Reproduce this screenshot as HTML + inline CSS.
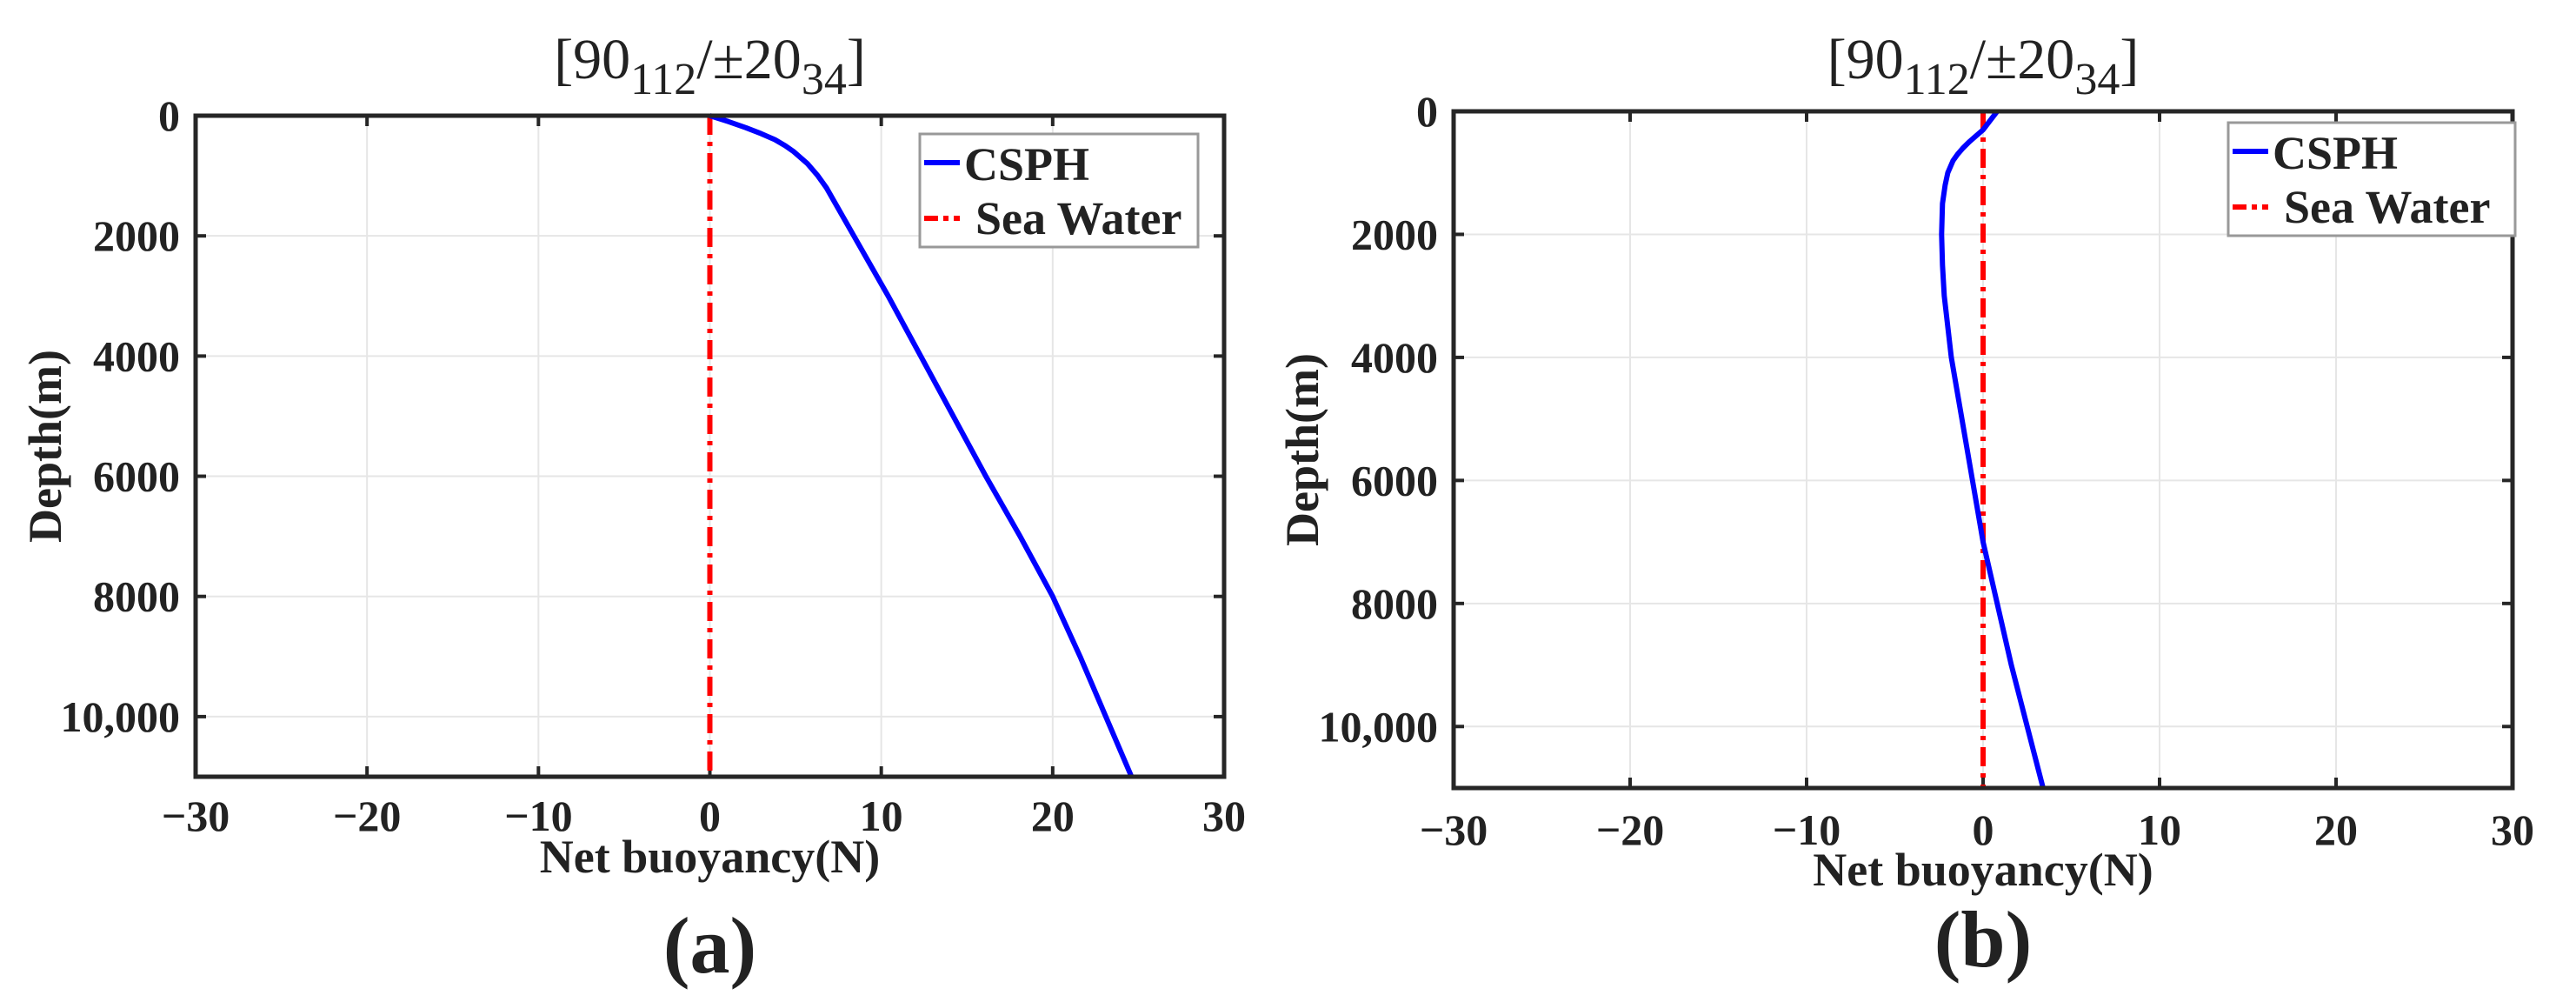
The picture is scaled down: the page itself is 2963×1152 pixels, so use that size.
<!DOCTYPE html>
<html><head><meta charset="utf-8"><style>
html,body{margin:0;padding:0;background:#fff;}
svg{display:block;}
text{font-family:"Liberation Serif",serif;fill:#222;}
</style></head><body>
<svg id="fig" width="2963" height="1152" viewBox="0 0 2963 1152" xmlns="http://www.w3.org/2000/svg"></svg>
<script>
const depthsA = [0,100,200,300,400,500,600,700,800,1000,1200,1500,2000,2500,3000,4000,5000,6000,7000,8000,9000,10000,11000];
const buoyA   = [0,1.1,2.1,3.0,3.8,4.4,4.9,5.3,5.7,6.3,6.8,7.4,8.4,9.4,10.4,12.3,14.2,16.1,18.1,20.0,21.6,23.1,24.6];
const depthsB = [0,150,300,400,500,600,700,800,1000,1200,1500,2000,2500,3000,4000,5000,6000,7000,8000,9000,10000,11000];
const buoyB   = [0.8,0.4,0,-0.4,-0.8,-1.15,-1.45,-1.7,-2.0,-2.15,-2.3,-2.35,-2.3,-2.2,-1.8,-1.2,-0.6,0,0.8,1.6,2.5,3.4];
const xTicks = [-30,-20,-10,0,10,20,30];
const yTicks = [0,2000,4000,6000,8000,10000];
const yTickLabels = ["0","2000","4000","6000","8000","10,000"];
const seaWater = [0];

const NS="http://www.w3.org/2000/svg";
const svg=document.getElementById('fig');
function el(tag,attrs,parent){const e=document.createElementNS(NS,tag);for(const k in attrs)e.setAttribute(k,attrs[k]);(parent||svg).appendChild(e);return e;}

function panel(cfg){
  const g=el('g',{});
  
  
  const {x0,x1,y0,y1}=cfg;
  const sx=v=>x0+(v+30)/60*(x1-x0);
  const sy=v=>y0+v/11000*(y1-y0);
  xTicks.forEach(t=>{const l=el('line',{x1:sx(t),x2:sx(t),y1:y0,y2:y1,stroke:'#e6e6e6','stroke-width':2},g);
    });
  yTicks.forEach(t=>{const l=el('line',{x1:x0,x2:x1,y1:sy(t),y2:sy(t),stroke:'#e6e6e6','stroke-width':2},g);
    });
  xTicks.forEach(t=>{
    el('line',{x1:sx(t),x2:sx(t),y1:y1,y2:y1-12,stroke:'#262626','stroke-width':4},g);
    el('line',{x1:sx(t),x2:sx(t),y1:y0,y2:y0+12,stroke:'#262626','stroke-width':4},g);
    const tx=el('text',{x:sx(t),y:cfg.xtickY,'text-anchor':'middle','font-size':50,'font-weight':'bold'},g);
    tx.textContent=(t<0?'\u2212'+(-t):''+t);
    
  });
  yTicks.forEach((t,i)=>{
    el('line',{x1:x0,x2:x0+12,y1:sy(t),y2:sy(t),stroke:'#262626','stroke-width':4},g);
    el('line',{x1:x1,x2:x1-12,y1:sy(t),y2:sy(t),stroke:'#262626','stroke-width':4},g);
    const tx=el('text',{x:x0-18,y:sy(t)+17,'text-anchor':'end','font-size':50,'font-weight':'bold'},g);
    tx.textContent=yTickLabels[i];
    
  });
  seaWater.forEach(v=>{const l=el('line',{x1:sx(v),x2:sx(v),y1:y0,y2:y1,stroke:'#ff0000','stroke-width':6,'stroke-dasharray':'22 8 5 8'},g);
    });
  const pts=cfg.d.map((d,i)=>sx(cfg.b[i])+','+sy(d)).join(' ');
  const pl=el('polyline',{points:pts,fill:'none',stroke:'#0000ff','stroke-width':6,'stroke-linejoin':'round'},g);
  
  const fr=el('rect',{x:x0,y:y0,width:x1-x0,height:y1-y0,fill:'none',stroke:'#262626','stroke-width':5},g);
  
  const lg=el('g',{},g);
  
  const L=cfg.leg;
  el('rect',{x:L.x,y:L.y,width:L.w,height:130,fill:'#fff',stroke:'#999','stroke-width':3},lg);
  el('line',{x1:L.x+5,x2:L.x+46,y1:L.y+33,y2:L.y+33,stroke:'#0000ff','stroke-width':6},lg);
  const t1=el('text',{x:L.x+51,y:L.y+53,'font-size':54,'font-weight':'bold',fill:'#000'},lg);t1.textContent='CSPH';
  
  el('line',{x1:L.x+5,x2:L.x+46,y1:L.y+97,y2:L.y+97,stroke:'#ff0000','stroke-width':6,'stroke-dasharray':'16 6 6 6'},lg);
  const t2=el('text',{x:L.x+64,y:L.y+115,'font-size':54,'font-weight':'bold',fill:'#000'},lg);t2.textContent='Sea Water';
  
  const cx=(x0+x1)/2;
  const xt=el('text',{x:cx,y:cfg.xtitleY,'text-anchor':'middle','font-size':54,'font-weight':'bold'},g);xt.textContent='Net buoyancy(N)';
  
  const yt=el('text',{x:0,y:0,'text-anchor':'middle','font-size':54,'font-weight':'bold',transform:`translate(${cfg.ytitleX},${(y0+y1)/2}) rotate(-90)`},g);yt.textContent='Depth(m)';
  
  const tt=el('text',{x:sx(0),y:90,'text-anchor':'middle','font-size':66},g);
  tt.innerHTML='[90<tspan font-size="52" dy="18">112</tspan><tspan dy="-18">/±20</tspan><tspan font-size="52" dy="18">34</tspan><tspan dy="-18">]</tspan>';
  
  const pl2=el('text',{x:sx(0),y:cfg.capY,'text-anchor':'middle','font-size':92,'font-weight':'bold',fill:'#000'},g);pl2.textContent=cfg.cap;
  
}
panel({name:'panel-a',x0:225,x1:1408,y0:133,y1:893,d:depthsA,b:buoyA,xtickY:955,xtitleY:1003,ytitleX:70,capY:1118,cap:'(a)',leg:{x:1058,y:154,w:320}});
panel({name:'panel-b',x0:1672,x1:2890,y0:128,y1:906,d:depthsB,b:buoyB,xtickY:971,xtitleY:1018,ytitleX:1516,capY:1111,cap:'(b)',leg:{x:2563,y:141,w:330}});
</script>
</body></html>
